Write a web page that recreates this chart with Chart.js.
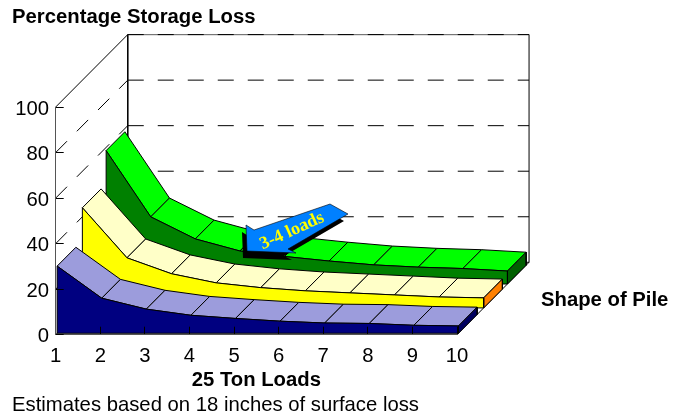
<!DOCTYPE html>
<html lang="en">
<head>
<meta charset="UTF-8">
<title>Percentage Storage Loss</title>
<script src="https://cdn.jsdelivr.net/npm/chart.js"></script>
<style>
    html, body { margin: 0; padding: 0; background: #fff; }
    #pile { display: block; }
</style>
</head>
<body>
<canvas id="pile" width="683" height="414"></canvas>
<script>
// values
const loads = [1, 2, 3, 4, 5, 6, 7, 8, 9, 10];
const yTicks = [0, 20, 40, 60, 80, 100];
const navyLoss = [29.5, 15.4, 10.6, 7.9, 6.5, 5.3, 4.5, 4.3, 3.5, 3.2];
const yellowLoss = [44, 22, 15, 11, 8.9, 7.5, 6.6, 5.7, 4.8, 4.4];
const greenLoss = [58.6, 29.5, 19.8, 14.5, 12.1, 10.1, 8.4, 7.4, 6.8, 5.7];

// depth projection: one full unit of depth in x (loads) and y (percent) units
const DEPTH_X = 1.616;
const DEPTH_Y = 31.8;
const RIBBON_DEPTH = 0.26;

const ribbons = [
    { values: greenLoss, depth: 0.70, front: '#008000', top: '#00ff00', side: '#006000' },
    { values: yellowLoss, depth: 0.37, front: '#ffff00', top: '#ffffc8', side: '#ff8000' },
    { values: navyLoss, depth: 0.02, front: '#000080', top: '#9c9cdc', side: '#000060' }
];

function project(load, value, depth) {
    return { x: load + depth * DEPTH_X, y: value + depth * DEPTH_Y };
}

function face(points, fillColor, extra) {
    return Object.assign({
        data: points,
        faceFill: fillColor,
        borderColor: '#000',
        borderWidth: 1,
        pointRadius: 0,
        showLine: true,
        tension: 0,
        clip: false
    }, extra);
}

const first = loads[0];
const last = loads[loads.length - 1];
const faces = [];

// walls and floor
faces.push(face([project(first, 0, 1), project(last, 0, 1), project(last, 100, 1), project(first, 100, 1), project(first, 0, 1)], null));
faces.push(face([project(first, 100, 1), project(last, 100, 1)], null, { borderColor: '#808080' }));
yTicks.slice(1).forEach(v => {
    if (v === 100) {
        faces.push(face([project(first, v, 0), project(first, v, 1)], null));
    } else {
        faces.push(face([project(first, v, 0), project(first, v, 1)], null, { borderDash: [16, 14] }));
    }
    faces.push(face([project(first, v, 1), project(last, v, 1)], null, { borderDash: [16, 14] }));
});
faces.push(face([project(first, 0, 0), project(first, 0, 1)], null));
faces.push(face([project(last, 0, 0), project(last, 0, 1)], null));

// ribbons, back to front
ribbons.forEach(r => {
    const f = r.depth;
    const b = r.depth + RIBBON_DEPTH;
    const n = loads.length - 1;
    for (let i = 0; i < n; i++) {
        faces.push(face([
            project(loads[i], r.values[i], f),
            project(loads[i + 1], r.values[i + 1], f),
            project(loads[i + 1], r.values[i + 1], b),
            project(loads[i], r.values[i], b),
            project(loads[i], r.values[i], f)
        ], r.top));
    }
    faces.push(face([
        project(loads[n], r.values[n], f),
        project(loads[n], r.values[n], b),
        project(loads[n], 0, b),
        project(loads[n], 0, f),
        project(loads[n], r.values[n], f)
    ], r.side));
    const outline = loads.map((l, i) => project(l, r.values[i], f));
    outline.push(project(loads[n], 0, f), project(loads[0], 0, f), outline[0]);
    faces.push(face(outline, r.front));
});

// later faces must paint on top
faces.forEach((d, i) => { d.order = -i; });

const faceFillPlugin = {
    id: 'faceFill',
    beforeDatasetDraw(chart, args) {
        const ds = chart.data.datasets[args.index];
        if (!ds.faceFill) return;
        const ctx = chart.ctx;
        const pts = args.meta.data;
        ctx.save();
        ctx.beginPath();
        pts.forEach((p, i) => (i ? ctx.lineTo(p.x, p.y) : ctx.moveTo(p.x, p.y)));
        ctx.closePath();
        ctx.fillStyle = ds.faceFill;
        ctx.fill();
        ctx.restore();
    }
};

function arrowPath(ctx, dx, dy) {
    const outline = [[246, 225], [254, 230], [330, 204], [348, 214], [288, 249], [296, 253], [247, 251]];
    ctx.beginPath();
    outline.forEach((p, i) => (i ? ctx.lineTo(p[0] + dx, p[1] + dy) : ctx.moveTo(p[0] + dx, p[1] + dy)));
    ctx.closePath();
}

const notesPlugin = {
    id: 'notes',
    afterDraw(chart) {
        const ctx = chart.ctx;
        ctx.save();
        ctx.fillStyle = '#000';
        ctx.font = 'bold 20.3px "Liberation Sans", Arial, sans-serif';
        ctx.textBaseline = 'middle';
        ctx.fillText('Shape of Pile', 541, 300);

        // callout arrow
        arrowPath(ctx, -4, 7);
        ctx.fillStyle = '#000';
        ctx.fill();
        arrowPath(ctx, 0, 0);
        ctx.fillStyle = '#0080ff';
        ctx.fill();
        ctx.strokeStyle = '#000';
        ctx.lineWidth = 0.6;
        ctx.stroke();
        ctx.translate(292, 231);
        ctx.rotate(-24.5 * Math.PI / 180);
        ctx.textAlign = 'center';
        ctx.fillStyle = '#ffff00';
        ctx.font = 'bold 18px "Liberation Serif", "Times New Roman", serif';
        ctx.fillText('3-4 loads', 0, 0);
        ctx.restore();
    }
};

const sans = '"Liberation Sans", Arial, sans-serif';
Chart.defaults.font.family = sans;
Chart.defaults.font.size = 20.3;
Chart.defaults.color = '#000';

new Chart(document.getElementById('pile').getContext('2d'), {
    type: 'scatter',
    data: { datasets: faces },
    plugins: [faceFillPlugin, notesPlugin],
    options: {
        responsive: false,
        animation: false,
        events: [],
        layout: { padding: { left: 12, right: 226, top: 0, bottom: 0 } },
        plugins: {
            legend: { display: false },
            tooltip: { enabled: false },
            title: {
                display: true,
                text: 'Percentage Storage Loss',
                align: 'start',
                color: '#000',
                font: { size: 20.3, weight: 'bold', lineHeight: 1 },
                padding: { top: 7, bottom: 79.7 }
            },
            subtitle: {
                display: true,
                position: 'bottom',
                text: 'Estimates based on 18 inches of surface loss',
                align: 'start',
                color: '#000',
                font: { size: 20.3, weight: 'normal', lineHeight: 1 },
                padding: { top: 0, bottom: -2 }
            }
        },
        scales: {
            x: {
                type: 'linear',
                min: first,
                max: last,
                afterFit(scale) { scale.height = 61; },
                border: { color: '#555', z: 1 },
                grid: { drawOnChartArea: false, tickLength: -8, tickColor: '#000', z: 1 },
                ticks: { stepSize: 1, padding: 17.5, maxRotation: 0, color: '#000' },
                title: {
                    display: true,
                    text: '25 Ton Loads',
                    color: '#000',
                    font: { size: 20.3, weight: 'bold', lineHeight: 1 },
                    padding: { top: 0, bottom: 5 }
                }
            },
            y: {
                type: 'linear',
                min: 0,
                max: 100,
                afterFit(scale) { scale.width = 43.7; },
                border: { color: '#555', z: 1 },
                grid: { drawOnChartArea: false, tickLength: -8, tickColor: '#000', z: 1 },
                ticks: { stepSize: 20, padding: 14.7, labelOffset: 2, color: '#000' }
            }
        }
    }
});
</script>
</body>
</html>
